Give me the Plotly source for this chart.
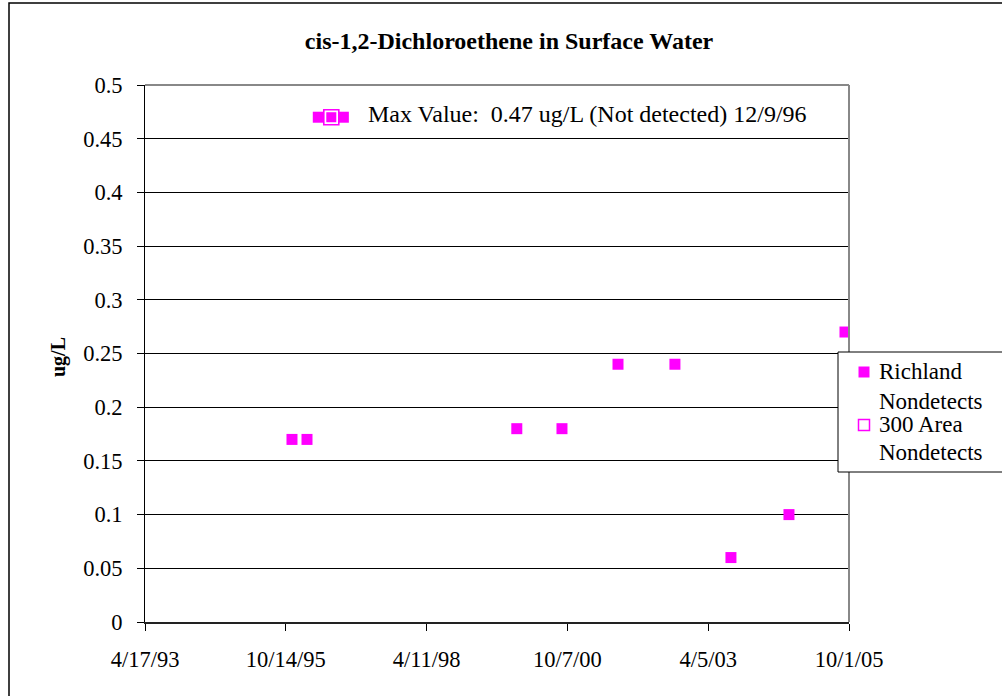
import plotly.graph_objects as go

# ---- data ----
richland_dates = ["1995-11-23", "1996-02-28", "1999-11-15", "2000-09-02", "2001-08-30",
                  "2002-09-02", "2003-08-30", "2004-09-08", "2005-09-05"]
richland_vals = [0.17, 0.17, 0.18, 0.18, 0.24, 0.24, 0.06, 0.10, 0.27]

max_band_dates = ["1996-05-11", "1996-10-20"]
max_band_vals = [0.47, 0.47]
max_center_date = ["1996-08-03"]
max_center_val = [0.47]

tick_dates = ["1993-04-17", "1995-10-14", "1998-04-11", "2000-10-07", "2003-04-05", "2005-10-01"]
tick_labels = ["4/17/93", "10/14/95", "4/11/98", "10/7/00", "4/5/03", "10/1/05"]

legend_lines = ["Richland", "Nondetects", "300 Area", "Nondetects"]

MAG = "#FF00FF"
FONT = "Liberation Serif"

fig = go.Figure()
fig.add_trace(go.Scatter(x=richland_dates, y=richland_vals, mode="markers",
                         name="Richland Nondetects", showlegend=False,
                         marker=dict(symbol="square", size=11, color=MAG, line=dict(width=0))))
# max value marker group
fig.add_trace(go.Scatter(x=max_band_dates, y=max_band_vals, mode="markers", showlegend=False,
                         marker=dict(symbol="square", size=11, color=MAG, line=dict(width=0))))
fig.add_trace(go.Scatter(x=max_center_date, y=max_center_val, mode="markers", showlegend=False,
                         name="300 Area Nondetects",
                         marker=dict(symbol="square", size=15, color="white", line=dict(width=1.6, color=MAG))))
fig.add_trace(go.Scatter(x=max_center_date, y=max_center_val, mode="markers", showlegend=False,
                         marker=dict(symbol="square", size=10, color=MAG, line=dict(width=0))))

L, R, T, B = 145, 849, 85, 622
W, H = 1002, 696

def px(xp):
    return (xp - L) / (R - L)

def py(yp):
    return (B - yp) / (B - T)

fig.update_layout(
    width=W, height=H,
    margin=dict(l=L, r=W - R, t=T, b=H - B),
    paper_bgcolor="white", plot_bgcolor="white",
    font=dict(family=FONT, size=22, color="black"),
    title=dict(text="<b>cis-1,2-Dichloroethene in Surface Water</b>",
               x=509 / W, xanchor="center", y=1 - 41 / H, yanchor="middle",
               font=dict(family=FONT, size=24, color="black")),
    xaxis=dict(type="date", range=[tick_dates[0], tick_dates[-1]],
               tickvals=tick_dates, ticktext=tick_labels,
               showgrid=False, zeroline=False,
               showline=True, linecolor="#222222", linewidth=1.5,
               ticks="outside", ticklen=7, tickcolor="black", tickwidth=1,
               tickfont=dict(family=FONT, size=22.5), ticklabelstandoff=9),
    yaxis=dict(range=[0, 0.5], dtick=0.05, tick0=0,
               showgrid=True, gridcolor="black", gridwidth=1,
               zeroline=False,
               showline=True, linecolor="black", linewidth=1,
               ticks="outside", ticklen=7, tickcolor="black", tickwidth=1,
               tickfont=dict(family=FONT, size=22.5), ticklabelstandoff=10),
    showlegend=False,
)

fig.add_annotation(text="<b>ug/L</b>", xref="paper", yref="paper", x=px(58), y=py(357),
                   textangle=-90, showarrow=False, font=dict(family=FONT, size=20),
                   xanchor="center", yanchor="middle")
fig.add_annotation(text="Max Value:  0.47 ug/L (Not detected) 12/9/96", xref="paper", yref="paper",
                   x=px(366), y=py(114), xanchor="left", yanchor="middle", showarrow=False,
                   font=dict(family=FONT, size=24))

# plot area border (gray top/right)
fig.add_shape(type="line", xref="paper", yref="paper", x0=0, x1=1, y0=1, y1=1,
              line=dict(color="#888888", width=2))
fig.add_shape(type="line", xref="paper", yref="paper", x0=1, x1=1, y0=0, y1=1,
              line=dict(color="#888888", width=2))
# outer chart border
fig.add_shape(type="rect", xref="paper", yref="paper", x0=px(9), x1=px(1010), y0=py(705), y1=py(3),
              line=dict(color="black", width=1.5), layer="below")

# ---- legend box (manual, to match the tight line spacing) ----
fig.add_shape(type="rect", xref="paper", yref="paper", x0=px(838), x1=px(1012), y0=py(472), y1=py(352),
              line=dict(color="black", width=1), fillcolor="white", layer="above")
fig.add_shape(type="rect", xref="paper", yref="paper", x0=px(858.5), x1=px(869.5), y0=py(377.5), y1=py(366.5),
              line=dict(width=0), fillcolor=MAG, layer="above")
fig.add_shape(type="rect", xref="paper", yref="paper", x0=px(858.5), x1=px(869.5), y0=py(430.5), y1=py(419.5),
              line=dict(width=1.5, color=MAG), fillcolor="white", layer="above")
for txt, yc in zip(legend_lines, [372, 401, 424, 453]):
    fig.add_annotation(text=txt, xref="paper", yref="paper", x=px(877), y=py(yc),
                       xanchor="left", yanchor="middle", showarrow=False,
                       font=dict(family=FONT, size=23))

fig.write_html("out.html", post_script="document.body.style.margin='0px';",
               config={"displayModeBar": False})
